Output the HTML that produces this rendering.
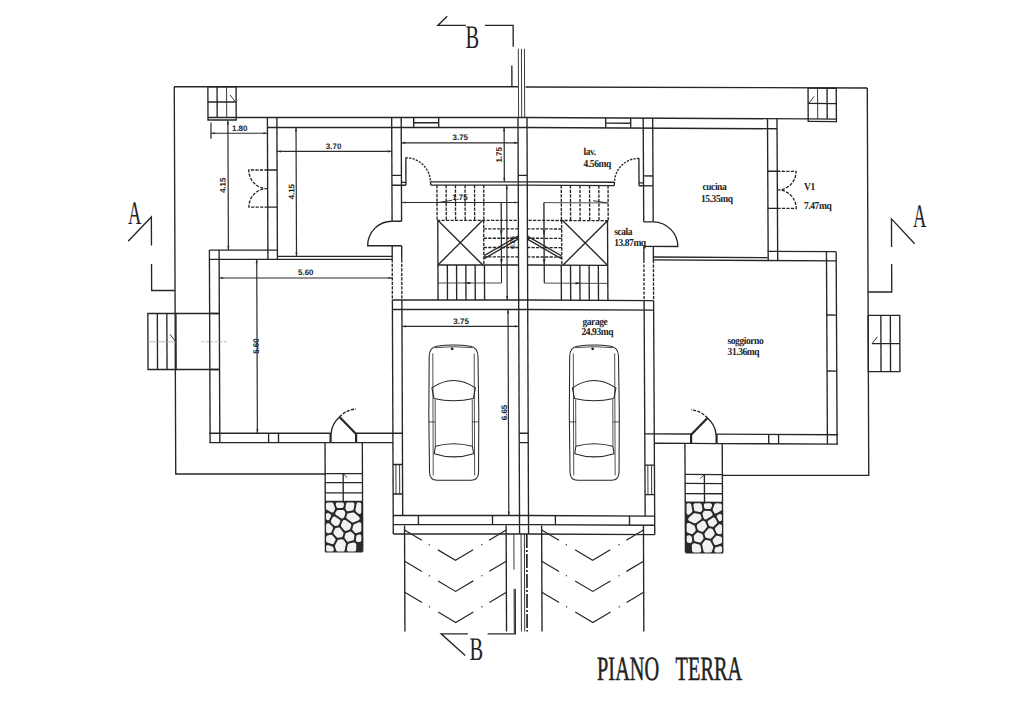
<!DOCTYPE html>
<html><head><meta charset="utf-8">
<style>
html,body{margin:0;padding:0;background:#fff;}
body{width:1024px;height:707px;overflow:hidden;}
svg{display:block;}
line,path,rect,ellipse{fill:none;stroke:#262626;stroke-width:1.35;}
.th{stroke-width:0.9;}
.thn{stroke-width:0.8;}
.thick{stroke-width:2.2;}
.dash{stroke-dasharray:3.2 1.3;}
.cl{stroke-width:1.7;stroke-dasharray:14 2 2 2;}
.dash2{stroke-dasharray:2.2 1.2;}
.faint{stroke:#a8a8a8;stroke-width:0.8;}
.faintd{stroke:#a8a8a8;stroke-width:0.8;stroke-dasharray:3 1.5;}
.walk{stroke:#3a3a3a;stroke-width:0.9;}
.dim{stroke-width:1.2;stroke:#2b2b2b;}
.arr{fill:#333;stroke:none;}
.chev{stroke-width:1.2;stroke-dasharray:20 8 1.2 9.5 41 9.5 1.2 8 20;}
.car path{stroke-width:1.05;}
.car .thn{stroke-width:0.8;}
.mortar{fill:#2a2a2a;stroke:none;}
.stone{fill:#f2f2f2;stroke:none;}
text{fill:#222;stroke:none;}
.dt{font-family:"Liberation Sans",sans-serif;font-size:8px;font-weight:bold;}
.dts{font-family:"Liberation Sans",sans-serif;font-size:6.5px;font-weight:bold;}
.rl{font-family:"Liberation Serif",serif;font-size:10.6px;font-weight:bold;letter-spacing:-0.5px;}
.big{font-family:"Liberation Serif",serif;font-size:33px;}
.title{font-family:"Liberation Serif",serif;font-size:34px;stroke:#222;stroke-width:0.5px;}
</style></head><body>
<svg width="1024" height="707" viewBox="0 0 1024 707">

<g transform="matrix(1 0 0.0038 1 -0.760 0)">
<g>
<rect x="208.3" y="86.7" width="28.2" height="33.3"/>
<line x1="217.5" y1="86.7" x2="217.5" y2="117.5"/>
<line x1="227" y1="86.7" x2="227" y2="117.5" class="th"/>
<line x1="208.3" y1="102" x2="236.5" y2="102"/>
<line x1="208.3" y1="117.5" x2="236.5" y2="117.5"/>
<line x1="230.5" y1="95" x2="235.5" y2="101.5" class="th"/>
<line x1="236.5" y1="117.5" x2="518.3" y2="117.5"/>
<line x1="267.7" y1="127.5" x2="518.3" y2="127.5"/>
<line x1="414" y1="117.5" x2="414" y2="127.5"/>
<line x1="439" y1="117.5" x2="439" y2="127.5"/>
<line x1="414" y1="122.7" x2="439" y2="122.7"/>
<line x1="267.7" y1="117.5" x2="267.7" y2="259.3"/>
<line x1="277.2" y1="117.5" x2="277.2" y2="259.3"/>
<line x1="267.7" y1="170" x2="277.2" y2="170"/>
<line x1="267.7" y1="207.1" x2="277.2" y2="207.1"/>
<path d="M267.7 170 H248.9 A18.8 18.6 0 0 0 265 188.6 H267.7 M267.7 188.6 H265 A18.8 18.5 0 0 0 248.9 207.1 H267.7" class="dash"/>
<line x1="392" y1="117.5" x2="392" y2="221.2"/>
<line x1="401.5" y1="117.5" x2="401.5" y2="221.2"/>
<line x1="392" y1="175.3" x2="401.5" y2="175.3"/>
<line x1="392" y1="185.2" x2="406" y2="185.2"/>
<line x1="392" y1="221.2" x2="401.5" y2="221.2"/>
<line x1="406" y1="157.5" x2="406" y2="185.2"/>
<line x1="401.5" y1="182.3" x2="406" y2="182.3"/>
<path d="M406 157.8 A24.5 24.5 0 0 1 430.5 182.3" class="dash2"/>
<line x1="430.7" y1="181.8" x2="518.3" y2="181.8"/>
<line x1="430.7" y1="185.1" x2="518.3" y2="185.1"/>
<line x1="430.7" y1="181.8" x2="430.7" y2="185.1"/>
<path d="M392 221.2 A24.5 24.5 0 0 0 367.5 245.7 H401.5"/>
<line x1="392" y1="245.7" x2="392" y2="259.3"/>
<line x1="392" y1="259.3" x2="392" y2="300" class="dash"/>
<line x1="392" y1="300" x2="392" y2="524.6"/>
<line x1="401.5" y1="245.7" x2="401.5" y2="259.3"/>
<line x1="401.5" y1="259.3" x2="401.5" y2="300" class="dash"/>
<line x1="401.5" y1="300" x2="401.5" y2="515.5"/>
<line x1="277.7" y1="256.4" x2="392" y2="256.4"/>
<line x1="209.2" y1="259.3" x2="392" y2="259.3"/>
<line x1="209.2" y1="250.1" x2="277.7" y2="250.1"/>
<line x1="209.2" y1="250.1" x2="209.2" y2="442.6"/>
<line x1="218.9" y1="250.1" x2="218.9" y2="442.6"/>
<line x1="209.2" y1="313.5" x2="218.9" y2="313.5"/>
<line x1="209.2" y1="369.5" x2="218.9" y2="369.5"/>
<g transform="translate(-0.9 0)">
<line x1="209.2" y1="433.2" x2="330.6" y2="433.2"/>
<line x1="209.2" y1="442.6" x2="330.6" y2="442.6"/>
<line x1="356.1" y1="433.2" x2="402.4" y2="433.2"/>
<line x1="356.1" y1="442.6" x2="392.9" y2="442.6"/>
<line x1="268.6" y1="433.2" x2="268.6" y2="442.6"/>
<line x1="278.5" y1="433.2" x2="278.5" y2="442.6"/>
<line x1="330.6" y1="433.2" x2="330.6" y2="442.6" class="thick"/>
<line x1="356.1" y1="433.2" x2="356.1" y2="442.6" class="thick"/>
<line x1="330.6" y1="442.6" x2="356.1" y2="442.6"/>
<line x1="356.1" y1="434" x2="339.6" y2="417" class="thick"/>
<path d="M331 434 A25 25 0 0 1 339.6 417"/>
<path d="M339.6 417 A25 25 0 0 1 356.1 409" class="dash"/>
<line x1="325" y1="442.6" x2="325" y2="551.7"/>
<line x1="362.3" y1="442.6" x2="362.3" y2="551.7"/>
<line x1="325" y1="473.6" x2="362.3" y2="473.6"/>
<line x1="325" y1="482.6" x2="362.3" y2="482.6"/>
<line x1="325" y1="492.8" x2="362.3" y2="492.8"/>
<line x1="325" y1="501.4" x2="362.3" y2="501.4"/>
<line x1="343" y1="473.6" x2="343" y2="501.4"/>
<line x1="343" y1="473.6" x2="347" y2="477.6" class="th"/>
</g>
<line x1="437" y1="185.1" x2="437" y2="220.3" class="dash"/>
<line x1="446.2" y1="185.1" x2="446.2" y2="220.3" class="dash"/>
<line x1="455.5" y1="185.1" x2="455.5" y2="220.3" class="dash"/>
<line x1="465.1" y1="185.1" x2="465.1" y2="220.3" class="dash"/>
<line x1="474.6" y1="185.1" x2="474.6" y2="220.3" class="dash"/>
<line x1="483.8" y1="185.1" x2="483.8" y2="220.3" class="dash"/>
<line x1="437" y1="220.3" x2="518.3" y2="220.3" class="dash"/>
<line x1="437.7" y1="220.3" x2="437.7" y2="265"/>
<line x1="483.6" y1="220.3" x2="483.6" y2="265" class="dash"/>
<line x1="437.7" y1="220.3" x2="482.6" y2="265"/>
<line x1="482.6" y1="220.3" x2="437.7" y2="265"/>
<line x1="437.7" y1="265" x2="437.7" y2="300"/>
<line x1="447.1" y1="265" x2="447.1" y2="300"/>
<line x1="456.3" y1="265" x2="456.3" y2="300"/>
<line x1="465.6" y1="265" x2="465.6" y2="300"/>
<line x1="474.9" y1="265" x2="474.9" y2="300"/>
<line x1="484.2" y1="265" x2="484.2" y2="300"/>
<line x1="437.7" y1="265" x2="518.3" y2="265"/>
<line x1="483.6" y1="228.8" x2="518.3" y2="228.8" class="dash"/>
<line x1="483.6" y1="238.2" x2="518.3" y2="238.2" class="dash"/>
<line x1="483.6" y1="247.5" x2="518.3" y2="247.5" class="dash"/>
<line x1="483.6" y1="256.9" x2="518.3" y2="256.9" class="dash"/>
<line x1="484" y1="255.6" x2="518.3" y2="235.8"/>
<line x1="484" y1="258.6" x2="518.3" y2="238.8"/>
<path d="M437 202.5 H501.2 V283 H437.7" class="walk"/>
<line x1="501.2" y1="202.5" x2="501.2" y2="283" class="th"/>
<path d="M501.2 237 l-1.3 -7 h2.6 z M501.2 266 l-1.3 -7 h2.6 z M463 283 l7 -1.3 v2.6 z" class="arr"/>
<line x1="438" y1="202.5" x2="452" y2="200.3" class="th"/>
<line x1="392" y1="300" x2="518.3" y2="300"/>
<line x1="392" y1="309.5" x2="518.3" y2="309.5"/>
<line x1="394.9" y1="464.5" x2="394.9" y2="494" class="th"/>
<line x1="398.6" y1="464.5" x2="398.6" y2="494" class="th"/>
<line x1="392" y1="464.5" x2="401.5" y2="464.5"/>
<line x1="392" y1="494" x2="401.5" y2="494"/>
<line x1="392" y1="515.5" x2="518.3" y2="515.5"/>
<line x1="392" y1="524.6" x2="518.3" y2="524.6"/>
<line x1="417.2" y1="515.5" x2="417.2" y2="524.6"/>
<line x1="491.3" y1="515.5" x2="491.3" y2="524.6"/>
<line x1="392" y1="534" x2="518.3" y2="534"/>
<line x1="392" y1="524.6" x2="392" y2="534"/>
<g transform="translate(-1.2 0)"><rect x="325" y="501.4" width="37.3" height="51.2" class="mortar"/>
<path d="M333.1 547.6 L332.7 546.9 L332.0 546.4 L328.5 545.2 L327.8 545.1 L327.1 545.2 L326.5 545.6 L326.1 546.2 L326.0 547.0 L326.0 549.7 L326.1 550.4 L326.5 551.0 L327.1 551.5 L327.8 551.6 L331.8 551.6 L332.5 551.5 L333.1 551.1 L333.5 550.5 L333.7 549.8 L333.6 549.1 L333.1 547.6Z M326.0 518.4 L326.1 519.1 L326.5 519.7 L327.1 520.1 L327.8 520.3 L328.5 520.2 L329.1 519.8 L329.5 519.3 L330.9 516.5 L331.1 515.8 L331.0 515.1 L330.7 514.4 L330.1 514.0 L328.8 513.2 L328.0 512.9 L327.3 513.0 L326.6 513.4 L326.1 514.1 L326.0 514.8 L326.0 518.4Z M330.2 532.8 L331.0 532.4 L331.5 531.7 L332.8 528.7 L333.0 527.9 L332.8 527.2 L332.4 526.5 L329.5 523.8 L328.8 523.3 L328.0 523.3 L327.6 523.3 L327.0 523.5 L326.4 523.9 L326.1 524.5 L326.0 525.2 L326.0 531.4 L326.1 532.1 L326.4 532.6 L327.0 533.1 L327.6 533.3 L328.3 533.3 L330.2 532.8Z M335.2 516.8 L334.5 516.6 L333.7 516.6 L333.0 517.0 L332.6 517.6 L331.0 520.6 L330.8 521.4 L331.0 522.2 L331.4 522.9 L334.1 525.4 L334.6 525.8 L335.2 525.9 L335.8 525.9 L337.8 525.4 L338.6 525.0 L339.1 524.3 L340.1 521.8 L340.3 521.2 L340.2 520.5 L339.9 519.9 L339.4 519.5 L335.2 516.8Z M335.2 540.4 L335.5 539.6 L335.3 538.9 L334.9 538.2 L332.2 535.3 L331.7 534.9 L331.1 534.8 L330.5 534.8 L327.4 535.5 L326.7 535.9 L326.2 536.5 L326.0 537.4 L326.0 540.8 L326.1 541.5 L326.6 542.2 L327.2 542.6 L331.5 544.1 L332.2 544.3 L332.9 544.1 L333.4 543.8 L333.8 543.2 L335.2 540.4Z M335.0 545.3 L334.8 546.0 L334.9 546.8 L336.1 550.3 L336.5 551.0 L337.1 551.4 L337.9 551.6 L342.8 551.6 L343.6 551.4 L344.3 550.9 L344.6 550.1 L345.8 544.2 L345.8 543.4 L345.5 542.6 L343.4 539.9 L342.9 539.4 L342.2 539.2 L341.6 539.2 L338.6 539.7 L337.8 540.1 L337.3 540.7 L335.0 545.3Z M336.1 527.9 L335.4 528.2 L334.9 528.9 L333.5 532.1 L333.3 532.8 L333.5 533.5 L333.9 534.2 L336.7 537.2 L337.2 537.5 L337.8 537.7 L338.4 537.7 L341.2 537.2 L341.9 536.9 L342.4 536.5 L342.7 535.9 L343.4 533.7 L343.5 533.0 L343.3 532.4 L343.0 531.9 L339.8 528.0 L339.3 527.6 L338.6 527.4 L338.0 527.4 L336.1 527.9Z M336.6 506.9 L337.0 507.5 L337.7 507.9 L338.4 508.1 L341.9 508.0 L342.6 507.8 L343.1 507.5 L343.5 507.0 L343.7 506.3 L344.0 504.6 L343.9 503.8 L343.6 503.1 L342.9 502.6 L342.1 502.4 L337.6 502.4 L336.9 502.5 L336.3 503.0 L335.9 503.6 L335.8 504.3 L335.9 505.0 L336.6 506.9Z M331.3 512.3 L331.9 512.5 L332.6 512.5 L333.3 512.2 L333.8 511.6 L334.8 509.8 L335.1 509.0 L335.0 508.1 L333.3 503.6 L332.9 503.0 L332.2 502.6 L331.5 502.4 L327.8 502.4 L327.1 502.5 L326.5 503.0 L326.1 503.6 L326.0 504.3 L326.0 508.2 L326.1 508.8 L326.4 509.4 L326.9 509.8 L331.3 512.3Z M341.1 518.2 L341.7 518.4 L342.4 518.5 L343.0 518.3 L343.4 518.0 L343.9 517.6 L344.3 516.9 L345.3 513.5 L345.3 512.7 L345.1 511.9 L344.4 510.8 L343.9 510.3 L343.4 510.0 L342.7 509.9 L338.0 510.1 L337.4 510.2 L336.9 510.5 L336.5 511.0 L335.6 512.5 L335.3 513.1 L335.3 513.9 L335.6 514.6 L336.2 515.1 L341.1 518.2Z M344.2 530.2 L344.8 530.7 L345.6 530.9 L346.3 530.8 L349.2 529.7 L349.8 529.2 L350.3 528.4 L351.1 525.7 L351.2 524.9 L350.9 524.1 L350.4 523.5 L345.8 520.2 L345.1 519.9 L344.5 519.9 L343.8 520.1 L343.3 520.3 L342.8 520.7 L342.5 521.3 L341.0 524.8 L340.9 525.4 L341.0 526.1 L341.3 526.7 L344.2 530.2Z M345.5 508.0 L345.5 508.6 L345.7 509.3 L346.4 510.3 L346.9 510.9 L347.6 511.2 L348.3 511.2 L352.1 510.5 L352.8 510.3 L353.4 509.7 L353.7 509.0 L354.4 504.7 L354.4 503.8 L354.0 503.1 L353.4 502.6 L352.6 502.4 L347.9 502.4 L347.3 502.5 L346.7 502.9 L346.3 503.4 L346.1 504.0 L345.5 508.0Z M356.2 544.7 L356.0 543.9 L355.5 543.2 L355.1 542.8 L354.3 542.4 L353.5 542.4 L349.0 543.6 L348.4 543.9 L347.9 544.4 L347.6 545.1 L346.8 549.3 L346.8 550.0 L347.0 550.6 L347.4 551.1 L348.0 551.5 L348.6 551.6 L354.1 551.6 L354.8 551.5 L355.4 551.1 L355.8 550.5 L356.0 549.8 L356.2 544.7Z M346.4 532.9 L345.7 533.3 L345.3 534.1 L344.5 536.7 L344.4 537.6 L344.8 538.4 L346.7 540.9 L347.2 541.4 L347.9 541.7 L348.6 541.6 L352.5 540.6 L353.1 540.3 L353.6 539.7 L353.9 539.0 L354.3 535.9 L354.2 535.1 L353.7 534.3 L351.4 532.1 L350.8 531.7 L350.1 531.6 L349.5 531.7 L346.4 532.9Z M351.9 522.2 L352.5 522.4 L353.1 522.5 L353.8 522.3 L358.6 520.2 L359.2 519.7 L359.6 519.1 L359.7 518.3 L359.5 517.6 L359.1 517.0 L354.6 512.9 L353.9 512.5 L353.1 512.4 L348.5 513.2 L347.8 513.4 L347.3 513.9 L347.0 514.5 L346.4 516.6 L346.3 517.4 L346.6 518.2 L347.1 518.7 L351.9 522.2Z M354.9 532.7 L355.4 533.1 L356.1 533.2 L356.8 533.1 L360.0 532.0 L360.7 531.6 L361.2 531.0 L361.3 530.2 L361.3 524.1 L361.2 523.3 L360.8 522.7 L360.1 522.3 L359.4 522.2 L358.7 522.3 L354.3 524.3 L353.6 524.8 L353.2 525.5 L352.3 528.7 L352.2 529.4 L352.4 530.0 L352.8 530.6 L354.9 532.7Z M355.5 509.8 L355.5 510.4 L355.7 511.0 L356.1 511.5 L358.2 513.5 L358.8 513.8 L359.5 514.0 L360.2 513.8 L360.8 513.4 L361.2 512.8 L361.3 512.1 L361.3 504.3 L361.2 503.6 L360.8 503.0 L360.2 502.5 L359.5 502.4 L358.4 502.4 L357.8 502.5 L357.2 502.8 L356.8 503.4 L356.6 504.0 L355.5 509.8Z M357.5 535.0 L356.8 535.3 L356.4 535.9 L356.2 536.6 L355.8 539.6 L355.8 540.3 L356.0 540.9 L356.5 541.4 L356.9 541.7 L357.6 542.1 L358.3 542.1 L359.7 541.9 L360.4 541.7 L360.9 541.3 L361.2 540.7 L361.3 540.0 L361.3 536.3 L361.2 535.6 L360.8 535.0 L360.2 534.6 L359.6 534.4 L358.9 534.5 L357.5 535.0Z" class="stone"/></g>
</g>
<g transform="matrix(-1 -0.005 0.0012 1 1044.86 2.61)">
<rect x="208.3" y="86.7" width="28.2" height="33.3"/>
<line x1="217.5" y1="86.7" x2="217.5" y2="117.5"/>
<line x1="227" y1="86.7" x2="227" y2="117.5" class="th"/>
<line x1="208.3" y1="102" x2="236.5" y2="102"/>
<line x1="208.3" y1="117.5" x2="236.5" y2="117.5"/>
<line x1="230.5" y1="95" x2="235.5" y2="101.5" class="th"/>
<line x1="236.5" y1="117.5" x2="518.3" y2="117.5"/>
<line x1="267.7" y1="127.5" x2="518.3" y2="127.5"/>
<line x1="414" y1="117.5" x2="414" y2="127.5"/>
<line x1="439" y1="117.5" x2="439" y2="127.5"/>
<line x1="414" y1="122.7" x2="439" y2="122.7"/>
<line x1="267.7" y1="117.5" x2="267.7" y2="259.3"/>
<line x1="277.2" y1="117.5" x2="277.2" y2="259.3"/>
<line x1="267.7" y1="170" x2="277.2" y2="170"/>
<line x1="267.7" y1="207.1" x2="277.2" y2="207.1"/>
<path d="M267.7 170 H248.9 A18.8 18.6 0 0 0 265 188.6 H267.7 M267.7 188.6 H265 A18.8 18.5 0 0 0 248.9 207.1 H267.7" class="dash"/>
<line x1="392" y1="117.5" x2="392" y2="221.2"/>
<line x1="401.5" y1="117.5" x2="401.5" y2="221.2"/>
<line x1="392" y1="175.3" x2="401.5" y2="175.3"/>
<line x1="392" y1="185.2" x2="406" y2="185.2"/>
<line x1="392" y1="221.2" x2="401.5" y2="221.2"/>
<line x1="406" y1="157.5" x2="406" y2="185.2"/>
<line x1="401.5" y1="182.3" x2="406" y2="182.3"/>
<path d="M406 157.8 A24.5 24.5 0 0 1 430.5 182.3" class="dash2"/>
<line x1="430.7" y1="181.8" x2="518.3" y2="181.8"/>
<line x1="430.7" y1="185.1" x2="518.3" y2="185.1"/>
<line x1="430.7" y1="181.8" x2="430.7" y2="185.1"/>
<path d="M392 221.2 A24.5 24.5 0 0 0 367.5 245.7 H401.5"/>
<line x1="392" y1="245.7" x2="392" y2="259.3"/>
<line x1="392" y1="259.3" x2="392" y2="300" class="dash"/>
<line x1="392" y1="300" x2="392" y2="524.6"/>
<line x1="401.5" y1="245.7" x2="401.5" y2="259.3"/>
<line x1="401.5" y1="259.3" x2="401.5" y2="300" class="dash"/>
<line x1="401.5" y1="300" x2="401.5" y2="515.5"/>
<line x1="277.7" y1="256.4" x2="392" y2="256.4"/>
<line x1="209.2" y1="259.3" x2="392" y2="259.3"/>
<line x1="209.2" y1="250.1" x2="277.7" y2="250.1"/>
<line x1="209.2" y1="250.1" x2="209.2" y2="442.6"/>
<line x1="218.9" y1="250.1" x2="218.9" y2="442.6"/>
<line x1="209.2" y1="313.5" x2="218.9" y2="313.5"/>
<line x1="209.2" y1="369.5" x2="218.9" y2="369.5"/>
<g transform="translate(-0.9 0)">
<line x1="209.2" y1="433.2" x2="330.6" y2="433.2"/>
<line x1="209.2" y1="442.6" x2="330.6" y2="442.6"/>
<line x1="356.1" y1="433.2" x2="402.4" y2="433.2"/>
<line x1="356.1" y1="442.6" x2="392.9" y2="442.6"/>
<line x1="268.6" y1="433.2" x2="268.6" y2="442.6"/>
<line x1="278.5" y1="433.2" x2="278.5" y2="442.6"/>
<line x1="330.6" y1="433.2" x2="330.6" y2="442.6" class="thick"/>
<line x1="356.1" y1="433.2" x2="356.1" y2="442.6" class="thick"/>
<line x1="330.6" y1="442.6" x2="356.1" y2="442.6"/>
<line x1="356.1" y1="434" x2="339.6" y2="417" class="thick"/>
<path d="M331 434 A25 25 0 0 1 339.6 417"/>
<path d="M339.6 417 A25 25 0 0 1 356.1 409" class="dash"/>
<line x1="325" y1="442.6" x2="325" y2="551.7"/>
<line x1="362.3" y1="442.6" x2="362.3" y2="551.7"/>
<line x1="325" y1="473.6" x2="362.3" y2="473.6"/>
<line x1="325" y1="482.6" x2="362.3" y2="482.6"/>
<line x1="325" y1="492.8" x2="362.3" y2="492.8"/>
<line x1="325" y1="501.4" x2="362.3" y2="501.4"/>
<line x1="343" y1="473.6" x2="343" y2="501.4"/>
<line x1="343" y1="473.6" x2="347" y2="477.6" class="th"/>
</g>
<line x1="437" y1="185.1" x2="437" y2="220.3" class="dash"/>
<line x1="446.2" y1="185.1" x2="446.2" y2="220.3" class="dash"/>
<line x1="455.5" y1="185.1" x2="455.5" y2="220.3" class="dash"/>
<line x1="465.1" y1="185.1" x2="465.1" y2="220.3" class="dash"/>
<line x1="474.6" y1="185.1" x2="474.6" y2="220.3" class="dash"/>
<line x1="483.8" y1="185.1" x2="483.8" y2="220.3" class="dash"/>
<line x1="437" y1="220.3" x2="518.3" y2="220.3" class="dash"/>
<line x1="437.7" y1="220.3" x2="437.7" y2="265"/>
<line x1="483.6" y1="220.3" x2="483.6" y2="265" class="dash"/>
<line x1="437.7" y1="220.3" x2="482.6" y2="265"/>
<line x1="482.6" y1="220.3" x2="437.7" y2="265"/>
<line x1="437.7" y1="265" x2="437.7" y2="300"/>
<line x1="447.1" y1="265" x2="447.1" y2="300"/>
<line x1="456.3" y1="265" x2="456.3" y2="300"/>
<line x1="465.6" y1="265" x2="465.6" y2="300"/>
<line x1="474.9" y1="265" x2="474.9" y2="300"/>
<line x1="484.2" y1="265" x2="484.2" y2="300"/>
<line x1="437.7" y1="265" x2="518.3" y2="265"/>
<line x1="483.6" y1="228.8" x2="518.3" y2="228.8" class="dash"/>
<line x1="483.6" y1="238.2" x2="518.3" y2="238.2" class="dash"/>
<line x1="483.6" y1="247.5" x2="518.3" y2="247.5" class="dash"/>
<line x1="483.6" y1="256.9" x2="518.3" y2="256.9" class="dash"/>
<line x1="484" y1="255.6" x2="518.3" y2="235.8"/>
<line x1="484" y1="258.6" x2="518.3" y2="238.8"/>
<path d="M437 202.5 H501.2 V283 H437.7" class="walk"/>
<line x1="501.2" y1="202.5" x2="501.2" y2="283" class="th"/>
<path d="M501.2 237 l-1.3 -7 h2.6 z M501.2 266 l-1.3 -7 h2.6 z M463 283 l7 -1.3 v2.6 z" class="arr"/>
<line x1="438" y1="202.5" x2="452" y2="200.3" class="th"/>
<line x1="392" y1="300" x2="518.3" y2="300"/>
<line x1="392" y1="309.5" x2="518.3" y2="309.5"/>
<line x1="394.9" y1="464.5" x2="394.9" y2="494" class="th"/>
<line x1="398.6" y1="464.5" x2="398.6" y2="494" class="th"/>
<line x1="392" y1="464.5" x2="401.5" y2="464.5"/>
<line x1="392" y1="494" x2="401.5" y2="494"/>
<line x1="392" y1="515.5" x2="518.3" y2="515.5"/>
<line x1="392" y1="524.6" x2="518.3" y2="524.6"/>
<line x1="417.2" y1="515.5" x2="417.2" y2="524.6"/>
<line x1="491.3" y1="515.5" x2="491.3" y2="524.6"/>
<line x1="392" y1="534" x2="518.3" y2="534"/>
<line x1="392" y1="524.6" x2="392" y2="534"/>
<g transform="translate(-1.2 0)"><rect x="325" y="501.4" width="37.3" height="51.2" class="mortar"/>
<path d="M333.1 547.6 L332.7 546.9 L332.0 546.4 L328.5 545.2 L327.8 545.1 L327.1 545.2 L326.5 545.6 L326.1 546.2 L326.0 547.0 L326.0 549.7 L326.1 550.4 L326.5 551.0 L327.1 551.5 L327.8 551.6 L331.8 551.6 L332.5 551.5 L333.1 551.1 L333.5 550.5 L333.7 549.8 L333.6 549.1 L333.1 547.6Z M326.0 518.4 L326.1 519.1 L326.5 519.7 L327.1 520.1 L327.8 520.3 L328.5 520.2 L329.1 519.8 L329.5 519.3 L330.9 516.5 L331.1 515.8 L331.0 515.1 L330.7 514.4 L330.1 514.0 L328.8 513.2 L328.0 512.9 L327.3 513.0 L326.6 513.4 L326.1 514.1 L326.0 514.8 L326.0 518.4Z M330.2 532.8 L331.0 532.4 L331.5 531.7 L332.8 528.7 L333.0 527.9 L332.8 527.2 L332.4 526.5 L329.5 523.8 L328.8 523.3 L328.0 523.3 L327.6 523.3 L327.0 523.5 L326.4 523.9 L326.1 524.5 L326.0 525.2 L326.0 531.4 L326.1 532.1 L326.4 532.6 L327.0 533.1 L327.6 533.3 L328.3 533.3 L330.2 532.8Z M335.2 516.8 L334.5 516.6 L333.7 516.6 L333.0 517.0 L332.6 517.6 L331.0 520.6 L330.8 521.4 L331.0 522.2 L331.4 522.9 L334.1 525.4 L334.6 525.8 L335.2 525.9 L335.8 525.9 L337.8 525.4 L338.6 525.0 L339.1 524.3 L340.1 521.8 L340.3 521.2 L340.2 520.5 L339.9 519.9 L339.4 519.5 L335.2 516.8Z M335.2 540.4 L335.5 539.6 L335.3 538.9 L334.9 538.2 L332.2 535.3 L331.7 534.9 L331.1 534.8 L330.5 534.8 L327.4 535.5 L326.7 535.9 L326.2 536.5 L326.0 537.4 L326.0 540.8 L326.1 541.5 L326.6 542.2 L327.2 542.6 L331.5 544.1 L332.2 544.3 L332.9 544.1 L333.4 543.8 L333.8 543.2 L335.2 540.4Z M335.0 545.3 L334.8 546.0 L334.9 546.8 L336.1 550.3 L336.5 551.0 L337.1 551.4 L337.9 551.6 L342.8 551.6 L343.6 551.4 L344.3 550.9 L344.6 550.1 L345.8 544.2 L345.8 543.4 L345.5 542.6 L343.4 539.9 L342.9 539.4 L342.2 539.2 L341.6 539.2 L338.6 539.7 L337.8 540.1 L337.3 540.7 L335.0 545.3Z M336.1 527.9 L335.4 528.2 L334.9 528.9 L333.5 532.1 L333.3 532.8 L333.5 533.5 L333.9 534.2 L336.7 537.2 L337.2 537.5 L337.8 537.7 L338.4 537.7 L341.2 537.2 L341.9 536.9 L342.4 536.5 L342.7 535.9 L343.4 533.7 L343.5 533.0 L343.3 532.4 L343.0 531.9 L339.8 528.0 L339.3 527.6 L338.6 527.4 L338.0 527.4 L336.1 527.9Z M336.6 506.9 L337.0 507.5 L337.7 507.9 L338.4 508.1 L341.9 508.0 L342.6 507.8 L343.1 507.5 L343.5 507.0 L343.7 506.3 L344.0 504.6 L343.9 503.8 L343.6 503.1 L342.9 502.6 L342.1 502.4 L337.6 502.4 L336.9 502.5 L336.3 503.0 L335.9 503.6 L335.8 504.3 L335.9 505.0 L336.6 506.9Z M331.3 512.3 L331.9 512.5 L332.6 512.5 L333.3 512.2 L333.8 511.6 L334.8 509.8 L335.1 509.0 L335.0 508.1 L333.3 503.6 L332.9 503.0 L332.2 502.6 L331.5 502.4 L327.8 502.4 L327.1 502.5 L326.5 503.0 L326.1 503.6 L326.0 504.3 L326.0 508.2 L326.1 508.8 L326.4 509.4 L326.9 509.8 L331.3 512.3Z M341.1 518.2 L341.7 518.4 L342.4 518.5 L343.0 518.3 L343.4 518.0 L343.9 517.6 L344.3 516.9 L345.3 513.5 L345.3 512.7 L345.1 511.9 L344.4 510.8 L343.9 510.3 L343.4 510.0 L342.7 509.9 L338.0 510.1 L337.4 510.2 L336.9 510.5 L336.5 511.0 L335.6 512.5 L335.3 513.1 L335.3 513.9 L335.6 514.6 L336.2 515.1 L341.1 518.2Z M344.2 530.2 L344.8 530.7 L345.6 530.9 L346.3 530.8 L349.2 529.7 L349.8 529.2 L350.3 528.4 L351.1 525.7 L351.2 524.9 L350.9 524.1 L350.4 523.5 L345.8 520.2 L345.1 519.9 L344.5 519.9 L343.8 520.1 L343.3 520.3 L342.8 520.7 L342.5 521.3 L341.0 524.8 L340.9 525.4 L341.0 526.1 L341.3 526.7 L344.2 530.2Z M345.5 508.0 L345.5 508.6 L345.7 509.3 L346.4 510.3 L346.9 510.9 L347.6 511.2 L348.3 511.2 L352.1 510.5 L352.8 510.3 L353.4 509.7 L353.7 509.0 L354.4 504.7 L354.4 503.8 L354.0 503.1 L353.4 502.6 L352.6 502.4 L347.9 502.4 L347.3 502.5 L346.7 502.9 L346.3 503.4 L346.1 504.0 L345.5 508.0Z M356.2 544.7 L356.0 543.9 L355.5 543.2 L355.1 542.8 L354.3 542.4 L353.5 542.4 L349.0 543.6 L348.4 543.9 L347.9 544.4 L347.6 545.1 L346.8 549.3 L346.8 550.0 L347.0 550.6 L347.4 551.1 L348.0 551.5 L348.6 551.6 L354.1 551.6 L354.8 551.5 L355.4 551.1 L355.8 550.5 L356.0 549.8 L356.2 544.7Z M346.4 532.9 L345.7 533.3 L345.3 534.1 L344.5 536.7 L344.4 537.6 L344.8 538.4 L346.7 540.9 L347.2 541.4 L347.9 541.7 L348.6 541.6 L352.5 540.6 L353.1 540.3 L353.6 539.7 L353.9 539.0 L354.3 535.9 L354.2 535.1 L353.7 534.3 L351.4 532.1 L350.8 531.7 L350.1 531.6 L349.5 531.7 L346.4 532.9Z M351.9 522.2 L352.5 522.4 L353.1 522.5 L353.8 522.3 L358.6 520.2 L359.2 519.7 L359.6 519.1 L359.7 518.3 L359.5 517.6 L359.1 517.0 L354.6 512.9 L353.9 512.5 L353.1 512.4 L348.5 513.2 L347.8 513.4 L347.3 513.9 L347.0 514.5 L346.4 516.6 L346.3 517.4 L346.6 518.2 L347.1 518.7 L351.9 522.2Z M354.9 532.7 L355.4 533.1 L356.1 533.2 L356.8 533.1 L360.0 532.0 L360.7 531.6 L361.2 531.0 L361.3 530.2 L361.3 524.1 L361.2 523.3 L360.8 522.7 L360.1 522.3 L359.4 522.2 L358.7 522.3 L354.3 524.3 L353.6 524.8 L353.2 525.5 L352.3 528.7 L352.2 529.4 L352.4 530.0 L352.8 530.6 L354.9 532.7Z M355.5 509.8 L355.5 510.4 L355.7 511.0 L356.1 511.5 L358.2 513.5 L358.8 513.8 L359.5 514.0 L360.2 513.8 L360.8 513.4 L361.2 512.8 L361.3 512.1 L361.3 504.3 L361.2 503.6 L360.8 503.0 L360.2 502.5 L359.5 502.4 L358.4 502.4 L357.8 502.5 L357.2 502.8 L356.8 503.4 L356.6 504.0 L355.5 509.8Z M357.5 535.0 L356.8 535.3 L356.4 535.9 L356.2 536.6 L355.8 539.6 L355.8 540.3 L356.0 540.9 L356.5 541.4 L356.9 541.7 L357.6 542.1 L358.3 542.1 L359.7 541.9 L360.4 541.7 L360.9 541.3 L361.2 540.7 L361.3 540.0 L361.3 536.3 L361.2 535.6 L360.8 535.0 L360.2 534.6 L359.6 534.4 L358.9 534.5 L357.5 535.0Z" class="stone"/></g>
</g>
<path d="M174.7 86.7 V474 H324.2"/>
<path d="M128 241.3 L151.3 217 V245.5"/>
<path d="M151.3 264 V290.5 H174.5"/>
<rect x="147.4" y="313.5" width="28.1" height="56"/>
<line x1="156.9" y1="313.5" x2="156.9" y2="369.5"/>
<line x1="166.4" y1="313.5" x2="166.4" y2="369.5"/>
<line x1="147.4" y1="341.8" x2="175.5" y2="341.8" class="faint"/>
<line x1="169.4" y1="334.2" x2="175.1" y2="341.8" class="th"/>
<line x1="175.5" y1="313.5" x2="219" y2="313.5"/>
<line x1="175.5" y1="369.5" x2="219" y2="369.5"/>
<line x1="200.7" y1="341.8" x2="227.5" y2="341.8" class="faintd"/>
<path d="M867.7 88 V475.3 H721.9"/>
<path d="M914.5 243.8 L891.4 218.9 V246.9"/>
<path d="M891.4 264 V292 H867.4"/>
<rect x="867.7" y="315.4" width="31.6" height="56.2"/>
<line x1="880.4" y1="315.4" x2="880.4" y2="371.6"/>
<line x1="889.9" y1="315.4" x2="889.9" y2="371.6"/>
<line x1="871.5" y1="343.6" x2="899.3" y2="343.6"/>
<line x1="876.8" y1="336.8" x2="871.5" y2="343.6" class="th"/>
<line x1="174.5" y1="86.7" x2="518.5" y2="86.7"/>
<line x1="526" y1="87.0" x2="867.7" y2="88.0"/>
<line x1="518.9" y1="48.75" x2="518.9" y2="117.5" class="th"/>
<line x1="522" y1="48.75" x2="522" y2="117.5" class="th"/>
<line x1="525" y1="48.75" x2="525" y2="117.5" class="th"/>
<line x1="518.3" y1="117.5" x2="518.3" y2="534"/>
<line x1="527.3" y1="117.5" x2="527.3" y2="534"/>
<line x1="518.3" y1="175.4" x2="527.3" y2="175.4"/>
<line x1="518.3" y1="117.5" x2="527.3" y2="117.5"/>
<line x1="518.3" y1="127.5" x2="527.3" y2="127.5"/>
<line x1="518.3" y1="181.8" x2="527.3" y2="181.8"/>
<line x1="518.3" y1="185.1" x2="527.3" y2="185.1"/>
<line x1="518.3" y1="300" x2="527.3" y2="300"/>
<line x1="518.3" y1="309.5" x2="527.3" y2="309.5"/>
<line x1="518.3" y1="515.5" x2="527.3" y2="515.5"/>
<line x1="518.3" y1="524.6" x2="527.3" y2="524.6"/>
<line x1="518.3" y1="534" x2="527.3" y2="534"/>
<line x1="518.3" y1="433.2" x2="527.3" y2="433.2"/>
<line x1="518.3" y1="442.6" x2="527.3" y2="442.6"/>
<g transform="translate(0.6 0)">
<path d="M447.3 16.3 L437.9 25.4 H466"/>
<path d="M485 25.3 H513.2 V46.8"/>
<line x1="511.75" y1="65.5" x2="511.75" y2="86.7"/>
</g>
<g transform="translate(-1.5 0)">
<path d="M465 655.5 L441 633.8 H467.7"/>
<path d="M487.5 633.8 H515.2 V589"/>
<line x1="514.1" y1="534" x2="514.1" y2="569.6" class="th"/>
<line x1="514.1" y1="588.7" x2="514.1" y2="633" class="th"/>
<line x1="521.3" y1="534" x2="521.3" y2="631.5" class="th"/>
<line x1="524.6" y1="534" x2="524.6" y2="631.5" class="th"/>
<line x1="527" y1="534" x2="527" y2="631.5" class="cl"/>
<line x1="404.8" y1="525.6" x2="404.8" y2="631.5"/>
<line x1="506.4" y1="525.6" x2="506.4" y2="631.5"/>
<path d="M404.8 530.1 L455.6 560.3 L506.4 530.1" class="chev"/>
<path d="M404.8 561.2 L455.6 591.4 L506.4 561.2" class="chev"/>
<path d="M404.8 592.3000000000001 L455.6 622.5 L506.4 592.3000000000001" class="chev"/>
<line x1="541.9" y1="525.6" x2="541.9" y2="631.5"/>
<line x1="643.7" y1="525.6" x2="643.7" y2="631.5"/>
<path d="M541.9 530.1 L592.8 560.3 L643.7 530.1" class="chev"/>
<path d="M541.9 561.2 L592.8 591.4 L643.7 561.2" class="chev"/>
<path d="M541.9 592.3000000000001 L592.8 622.5 L643.7 592.3000000000001" class="chev"/>
</g>
<line x1="211.25" y1="122.5" x2="211.25" y2="138.75" class="dim"/>
<line x1="211.25" y1="133.25" x2="267.7" y2="133.25" class="dim"/>
<path d="M211.25 133.25 l4 -1.1 v2.2 z M267.7 133.25 l-4 -1.1 v2.2 z" class="arr"/>
<line x1="228.2" y1="120.5" x2="228.2" y2="250" class="dim"/>
<path d="M228.2 120.5 l-1.1 4 h2.2 z M228.2 250 l-1.1 -4 h2.2 z" class="arr"/>
<line x1="277.2" y1="151.4" x2="392" y2="151.4" class="dim"/>
<path d="M277.2 151.4 l4 -1.1 v2.2 z M392 151.4 l-4 -1.1 v2.2 z" class="arr"/>
<line x1="296.3" y1="127.5" x2="296.3" y2="256.4" class="dim"/>
<path d="M296.3 127.5 l-1.1 4 h2.2 z M296.3 256.4 l-1.1 -4 h2.2 z" class="arr"/>
<line x1="218.9" y1="278" x2="392" y2="278" class="dim"/>
<path d="M218.9 278 l4 -1.1 v2.2 z M392 278 l-4 -1.1 v2.2 z" class="arr"/>
<line x1="256.5" y1="259.3" x2="256.5" y2="433.2" class="dim"/>
<path d="M256.5 259.3 l-1.1 4 h2.2 z M256.5 433.2 l-1.1 -4 h2.2 z" class="arr"/>
<line x1="401.5" y1="142.8" x2="518.3" y2="142.8" class="dim"/>
<path d="M401.5 142.8 l4 -1.1 v2.2 z M518.3 142.8 l-4 -1.1 v2.2 z" class="arr"/>
<line x1="504.4" y1="127.5" x2="504.4" y2="181.8" class="dim"/>
<path d="M504.4 127.5 l-1.1 4 h2.2 z M504.4 181.8 l-1.1 -4 h2.2 z" class="arr"/>
<line x1="401.5" y1="202.5" x2="518.3" y2="202.5" class="dim"/>
<path d="M401.5 202.5 l4 -1.1 v2.2 z M518.3 202.5 l-4 -1.1 v2.2 z" class="arr"/>
<line x1="506.8" y1="185.1" x2="506.8" y2="300" class="dim"/>
<path d="M506.8 185.1 l-1.1 4 h2.2 z M506.8 300 l-1.1 -4 h2.2 z" class="arr"/>
<line x1="401.5" y1="326.4" x2="518.3" y2="326.4" class="dim"/>
<path d="M401.5 326.4 l4 -1.1 v2.2 z M518.3 326.4 l-4 -1.1 v2.2 z" class="arr"/>
<line x1="507.6" y1="309.5" x2="507.6" y2="515.5" class="dim"/>
<path d="M507.6 309.5 l-1.1 4 h2.2 z M507.6 515.5 l-1.1 -4 h2.2 z" class="arr"/>
<g transform="translate(428.0 344.4)" class="car">
<path d="M0.6 12 Q0.8 3 8 1.8 Q25 -0.5 42 1.8 Q49.2 3 49.4 12 L50 70 L49.5 128 Q49.2 135.6 42 135.9 L8 135.9 Q0.8 135.6 0.5 128 L0 70 Z"/>
<path d="M6 3.3 Q25 1.3 44 3.3" class="thn"/>
<path d="M4.2 9 L4.2 131 M45.6 9 L45.6 131" class="thn"/>
<path d="M3.2 43.5 Q24.6 28.7 46.7 43.5 L44.6 54.1 Q24.6 58.5 5.3 54.1 Z"/>
<path d="M6.4 55 L6.4 101.5 M43.5 55 L43.5 101.5" class="thn"/>
<path d="M6.4 101.9 Q24.6 96.9 43.5 101.9 L44.6 109.3 Q24.6 115.7 5.3 109.3 Z"/>
<path d="M0 77.5 L6.4 77.5 M43.5 77.5 L50 77.5" class="thn"/>
<circle cx="23.6" cy="4.4" r="1.4" fill="#222" stroke="none"/>
</g>
<g transform="translate(568.5 344.4)" class="car">
<path d="M0.6 12 Q0.8 3 8 1.8 Q25 -0.5 42 1.8 Q49.2 3 49.4 12 L50 70 L49.5 128 Q49.2 135.6 42 135.9 L8 135.9 Q0.8 135.6 0.5 128 L0 70 Z"/>
<path d="M6 3.3 Q25 1.3 44 3.3" class="thn"/>
<path d="M4.2 9 L4.2 131 M45.6 9 L45.6 131" class="thn"/>
<path d="M3.2 43.5 Q24.6 28.7 46.7 43.5 L44.6 54.1 Q24.6 58.5 5.3 54.1 Z"/>
<path d="M6.4 55 L6.4 101.5 M43.5 55 L43.5 101.5" class="thn"/>
<path d="M6.4 101.9 Q24.6 96.9 43.5 101.9 L44.6 109.3 Q24.6 115.7 5.3 109.3 Z"/>
<path d="M0 77.5 L6.4 77.5 M43.5 77.5 L50 77.5" class="thn"/>
<circle cx="23.6" cy="4.4" r="1.4" fill="#222" stroke="none"/>
</g>
<text x="240" y="131.2" class="dt" text-anchor="middle">1.80</text><text x="333.8" y="149" class="dt" text-anchor="middle">3.70</text><text x="460.5" y="140.2" class="dt" text-anchor="middle">3.75</text><text x="305.5" y="275.3" class="dt" text-anchor="middle">5.60</text><text x="460.6" y="324" class="dt" text-anchor="middle">3.75</text><text x="460" y="200" class="dt" text-anchor="middle">1.75</text><text x="225.6" y="185.3" class="dt" text-anchor="middle" transform="rotate(-90 225.6 185.3)">4.15</text><text x="294.3" y="191.7" class="dt" text-anchor="middle" transform="rotate(-90 294.3 191.7)">4.15</text><text x="258.3" y="346" class="dt" text-anchor="middle" transform="rotate(-90 258.3 346)">5.60</text><text x="502" y="154.8" class="dt" text-anchor="middle" transform="rotate(-90 502 154.8)">1.75</text><text x="506.2" y="412.5" class="dt" text-anchor="middle" transform="rotate(-90 506.2 412.5)">6.65</text><text x="514.5" y="242.5" class="dts" text-anchor="middle" transform="rotate(-90 514.5 242.5)">0.25</text><text transform="translate(583.7 154.7) scale(0.9 1)" class="rl">lav.</text><text transform="translate(583.7 166.8) scale(0.9 1)" class="rl">4.56mq</text><text transform="translate(702.5 189.5) scale(0.9 1)" class="rl">cucina</text><text transform="translate(701 202) scale(0.9 1)" class="rl">15.35mq</text><text transform="translate(804 189.8) scale(0.9 1)" class="rl">V1</text><text transform="translate(804 208.5) scale(0.9 1)" class="rl">7.47mq</text><text transform="translate(614 235) scale(0.9 1)" class="rl">scala</text><text transform="translate(614 246) scale(0.9 1)" class="rl">13.87mq</text><text transform="translate(582 324.5) scale(0.9 1)" class="rl">garage</text><text transform="translate(581 335) scale(0.9 1)" class="rl">24.93mq</text><text transform="translate(727 343.5) scale(0.9 1)" class="rl">soggiorno</text><text transform="translate(727 354.5) scale(0.9 1)" class="rl">31.36mq</text><text transform="translate(466.1 47.5) scale(0.62 1)" class="big">B</text><text transform="translate(467.8 659.8) scale(0.62 1)" class="big">B</text><text transform="translate(127.8 224) scale(0.56 1)" class="big">A</text><text transform="translate(912.8 226.7) scale(0.56 1)" class="big">A</text><text transform="translate(595.2 679.8) scale(0.6 1)" class="title">PIANO</text><text transform="translate(673.7 679.8) scale(0.6 1)" class="title">TERRA</text>
</g>
</svg>
</body></html>
